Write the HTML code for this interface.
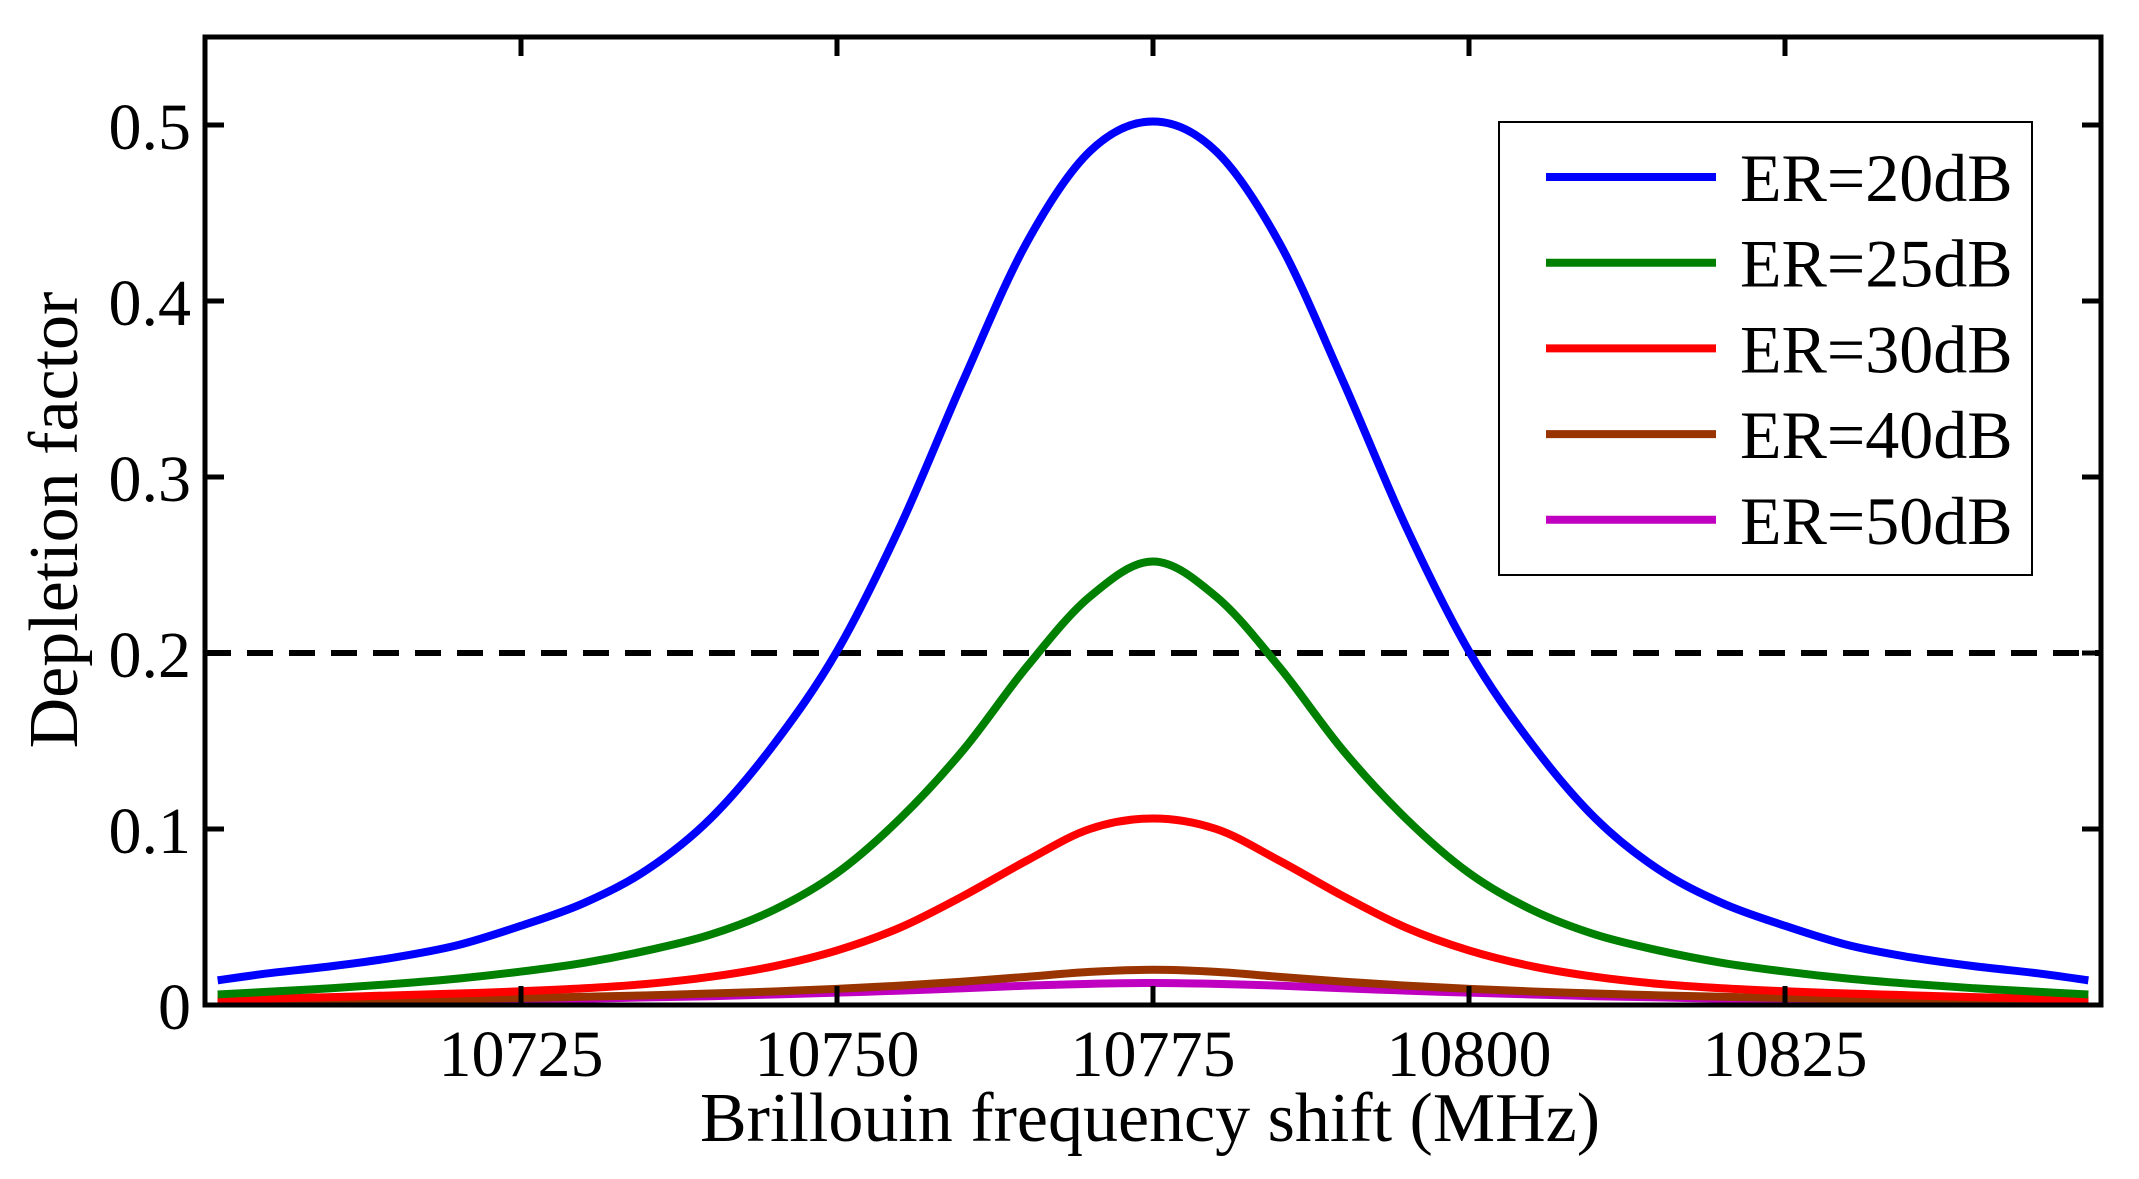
<!DOCTYPE html>
<html><head><meta charset="utf-8"><style>
html,body{margin:0;padding:0;background:#fff;}
svg{display:block;font-family:"Liberation Serif","Times New Roman",serif;}
</style></head><body>
<svg id="chart" width="2139" height="1179" viewBox="0 0 2139 1179" xmlns="http://www.w3.org/2000/svg">
<rect x="0" y="0" width="2139" height="1179" fill="#fff"/>
<g id="plot"></g>
</svg>
<script>
const freqs = [10701,10705,10710,10715,10720,10725,10730,10735,10740,10745,10750,10755,10760,10765,10770,10775,10780,10785,10790,10795,10800,10805,10810,10815,10820,10825,10830,10835,10840,10845,10849];
const er20 = [0.014,0.018,0.022,0.027,0.034,0.045,0.058,0.077,0.106,0.148,0.201,0.272,0.355,0.433,0.485,0.502,0.485,0.433,0.355,0.272,0.201,0.148,0.106,0.077,0.058,0.045,0.034,0.027,0.022,0.018,0.014];
const er25 = [0.006,0.0075,0.0095,0.012,0.015,0.019,0.024,0.031,0.040,0.054,0.075,0.106,0.145,0.192,0.232,0.252,0.232,0.192,0.145,0.106,0.075,0.054,0.040,0.031,0.024,0.019,0.015,0.012,0.0095,0.0075,0.006];
const er30 = [0.003,0.0037,0.0045,0.0055,0.0065,0.0078,0.0095,0.012,0.016,0.022,0.031,0.044,0.062,0.082,0.100,0.106,0.100,0.082,0.062,0.044,0.031,0.022,0.016,0.012,0.0095,0.0078,0.0065,0.0055,0.0045,0.0037,0.003];
const er40 = [0.0015,0.002,0.0025,0.003,0.0035,0.004,0.0047,0.0055,0.0065,0.0077,0.0092,0.011,0.0133,0.016,0.0188,0.020,0.0188,0.016,0.0133,0.011,0.0092,0.0077,0.0065,0.0055,0.0047,0.004,0.0035,0.003,0.0025,0.002,0.0015];
const er50 = [0.001,0.0013,0.0016,0.002,0.0025,0.003,0.0036,0.0043,0.005,0.006,0.007,0.0082,0.0095,0.011,0.012,0.0125,0.012,0.011,0.0095,0.0082,0.007,0.006,0.005,0.0043,0.0036,0.003,0.0025,0.002,0.0016,0.0013,0.001];
const seriesNames = ["ER=20dB","ER=25dB","ER=30dB","ER=40dB","ER=50dB"];
const xTicks = [10725,10750,10775,10800,10825];
const yTicks = [0,0.1,0.2,0.3,0.4,0.5];
const yTickLabels = ["0","0.1","0.2","0.3","0.4","0.5"];
const threshold = 0.2;

const NS="http://www.w3.org/2000/svg";
const L=205,R=2101,T=37,B=1005;
const xMin=10700,xMax=10850,yMin=0,yMax=0.55;
function xs(v){return L+(v-xMin)/(xMax-xMin)*(R-L);}
function ys(v){return B-(v-yMin)/(yMax-yMin)*(B-T);}
const g=document.getElementById('plot');
function mk(tag,attrs){const e=document.createElementNS(NS,tag);for(const k in attrs)e.setAttribute(k,attrs[k]);g.appendChild(e);return e;}

const seriesData=[er20,er25,er30,er40,er50];
const colors=["#0000ff","#008000","#ff0000","#993300","#c000c0"];
const keys=["er20","er25","er30","er40","er50"];

const th=mk('line',{x1:L,x2:R,y1:ys(threshold),y2:ys(threshold),stroke:'#000','stroke-width':6,'stroke-dasharray':'26 16'});



for(let s=seriesData.length-1;s>=0;s--){
  const vals=seriesData[s];
  const pts=freqs.map((f,i)=>[xs(f),ys(vals[i])]);
  let d='M'+pts[0][0].toFixed(2)+','+pts[0][1].toFixed(2);
  for(let i=0;i<pts.length-1;i++){
    const p0=pts[Math.max(0,i-1)],p1=pts[i],p2=pts[i+1],p3=pts[Math.min(pts.length-1,i+2)];
    const c1=[p1[0]+(p2[0]-p0[0])/6,p1[1]+(p2[1]-p0[1])/6];
    const c2=[p2[0]-(p3[0]-p1[0])/6,p2[1]-(p3[1]-p1[1])/6];
    d+=' C'+c1[0].toFixed(2)+','+c1[1].toFixed(2)+' '+c2[0].toFixed(2)+','+c2[1].toFixed(2)+' '+p2[0].toFixed(2)+','+p2[1].toFixed(2);
  }
  const p=mk('path',{d:d,fill:'none',stroke:colors[s],'stroke-width':8,'stroke-linejoin':'round'});
  
  
}

const box=mk('rect',{x:L,y:T,width:R-L,height:B-T,fill:'none',stroke:'#000','stroke-width':5});



xTicks.forEach(v=>{
  const x=xs(v);
  mk('line',{x1:x,x2:x,y1:B,y2:B-19,stroke:'#000','stroke-width':5});
  mk('line',{x1:x,x2:x,y1:T,y2:T+19,stroke:'#000','stroke-width':5});
  const t=mk('text',{x:x,y:1076,'text-anchor':'middle','font-size':66,fill:'#000'});
  t.textContent=String(v);
  
  
});
yTicks.forEach((v,i)=>{
  const y=ys(v);
  mk('line',{x1:L,x2:L+19,y1:y,y2:y,stroke:'#000','stroke-width':5});
  mk('line',{x1:R,x2:R-19,y1:y,y2:y,stroke:'#000','stroke-width':5});
  const t=mk('text',{x:191,y:y+24,'text-anchor':'end','font-size':66,fill:'#000'});
  t.textContent=yTickLabels[i];
  
  
});

const xt=mk('text',{x:(L+R)/2-3,y:1141,'text-anchor':'middle','font-size':70,fill:'#000'});
xt.textContent='Brillouin frequency shift (MHz)';


const yt=mk('text',{x:0,y:0,'text-anchor':'middle','font-size':70,fill:'#000',transform:'translate(77,520) rotate(-90)'});
yt.textContent='Depletion factor';



const lg=mk('rect',{x:1499,y:122,width:533,height:453,fill:'#fff',stroke:'#000','stroke-width':2});


seriesNames.forEach((n,i)=>{
  const y=177+i*85.7;
  const ln=mk('line',{x1:1546,x2:1716,y1:y,y2:y,stroke:colors[i],'stroke-width':8});
  
  
  const t=mk('text',{x:1740,y:y+24,'font-size':68,fill:'#000'});
  t.textContent=n;
  
  
});
</script>
</body></html>
